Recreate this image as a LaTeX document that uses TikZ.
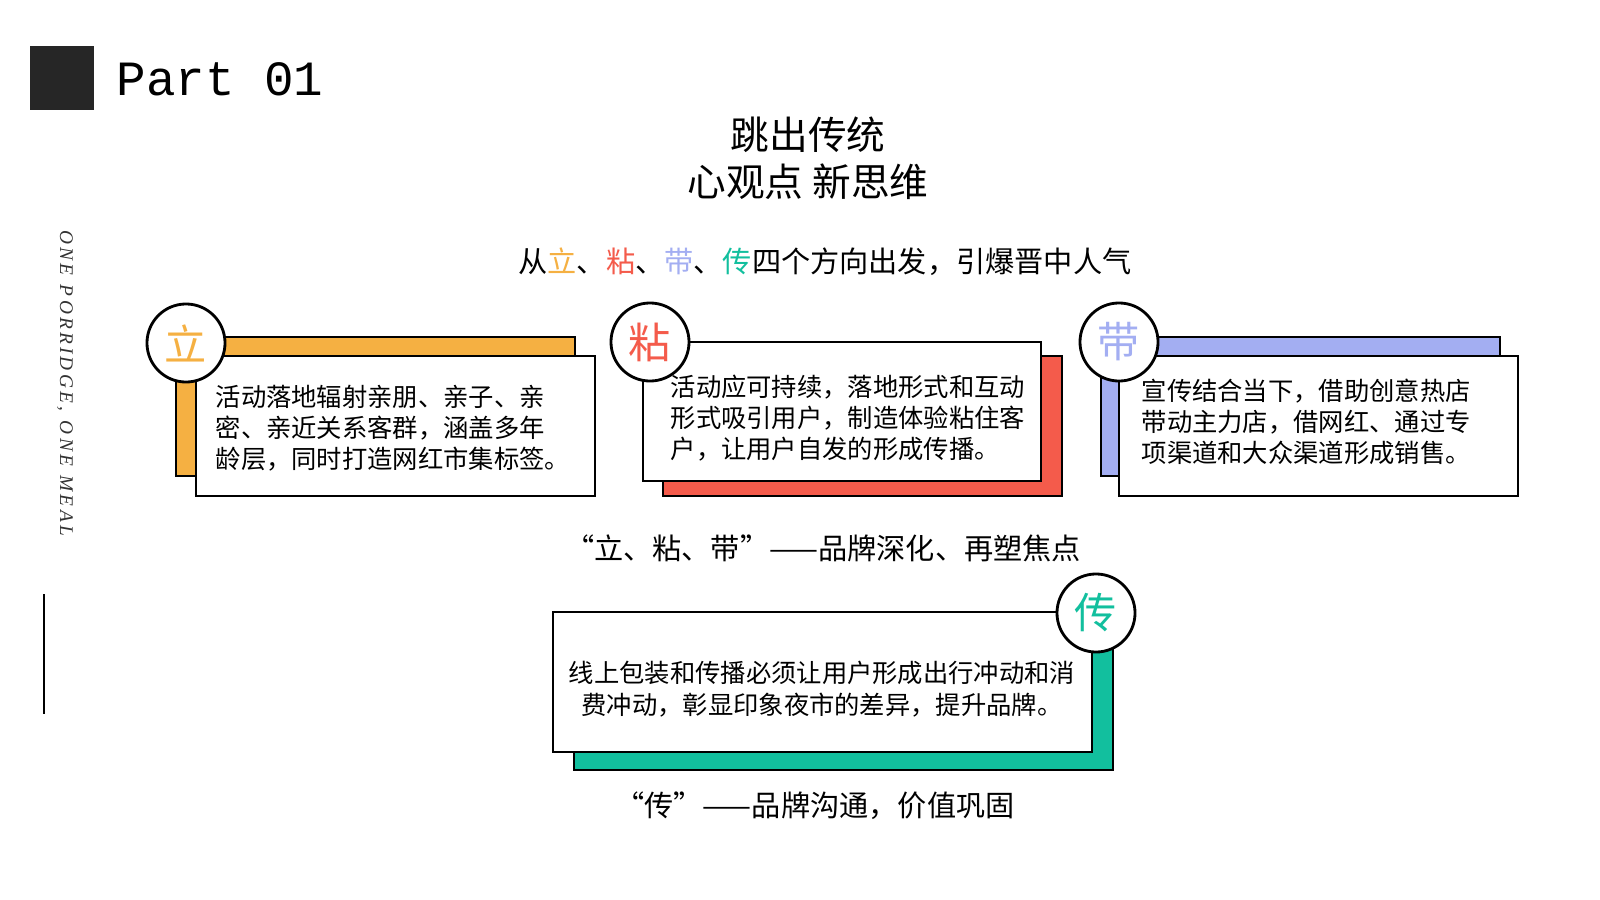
\documentclass[tikz,border=0pt]{standalone}
\usepackage{fontspec}
\setmonofont{Liberation Mono}
\setmainfont{Liberation Serif}
\newfontfamily\cjk{Noto Sans CJK SC}
\definecolor{cor}{HTML}{F5B042}
\definecolor{cre}{HTML}{F45B4B}
\definecolor{cbl}{HTML}{A3AEF2}
\definecolor{cgr}{HTML}{12BF9E}
\begin{document}
\begin{tikzpicture}[x=0.01cm,y=-0.01cm,
 bk/.style={draw=black,line width=0.8pt},
 fr/.style={draw=black,line width=0.8pt,fill=white},
 circ/.style={circle,draw=black,line width=0.8pt,fill=white,minimum size=0.78cm,inner sep=0pt,font=\cjk\fontsize{12}{12}\selectfont},
 body/.style={anchor=north west,align=left,font=\cjk\fontsize{7.2}{8.9}\selectfont,inner sep=0pt},
 captxt/.style={font=\cjk\fontsize{8.3}{9}\selectfont,inner sep=0pt}]
\useasboundingbox (0,0) rectangle (1600,900);
\fill[fill=white] (0,0) rectangle (1600,900);
\fill[black!85] (30,46) rectangle (94,110);
\node[anchor=west,font=\ttfamily\fontsize{14}{14}\selectfont,inner sep=0pt] (part) at (116,79) {Part 01};
\node[font=\cjk\fontsize{11}{13.5}\selectfont,align=center] (title) at (808,158) {跳出传统\\心观点 新思维};
\node[captxt] (sub) at (825,262) {从\textcolor{cor}{立}、\textcolor{cre}{粘}、\textcolor{cbl}{带}、\textcolor{cgr}{传}四个方向出发，引爆晋中人气};
\node[rotate=-90,font=\rmfamily\itshape\fontsize{5.5}{5.5}\selectfont,inner sep=0pt,text=black!80] (vt) at (65,383) {O\,N\,E\ \ P\,O\,R\,R\,I\,D\,G\,E\,,\ \ O\,N\,E\ \ M\,E\,A\,L};
\coordinate (l1) at (44,594); \coordinate (l2) at (44,714);
\draw[line width=0.5pt] (l1) -- (l2);
% box1
\draw[bk,fill=cor] (176,337) rectangle (575,476);
\draw[fr] (196,356) rectangle (595,496);
\node[circ,text=cor] (c1) at (186,343) {立};
\node[body] (t1) at (215,384) {活动落地辐射亲朋、亲子、亲\\密、亲近关系客群，涵盖多年\\龄层，同时打造网红市集标签。};
% box2
\draw[bk,fill=cre] (663,356) rectangle (1062,496);
\draw[fr] (643,342) rectangle (1041,481);
\node[circ,text=cre] (c2) at (650,342) {粘};
\node[body] (t2) at (670,374) {活动应可持续，落地形式和互动\\形式吸引用户，制造体验粘住客\\户，让用户自发的形成传播。};
% box3
\draw[bk,fill=cbl] (1101,337) rectangle (1500,476);
\draw[fr] (1119,356) rectangle (1518,496);
\node[circ,text=cbl] (c3) at (1119,342) {带};
\node[body] (t3) at (1141,378) {宣传结合当下，借助创意热店\\带动主力店，借网红、通过专\\项渠道和大众渠道形成销售。};
\node[captxt] (cap1) at (823,548) {“立、粘、带”——品牌深化、再塑焦点};
% box4
\draw[bk,fill=cgr] (574,632) rectangle (1113,770);
\draw[fr] (553,612) rectangle (1092,752);
\node[circ,text=cgr] (c4) at (1096,613) {传};
\node[body,align=center,anchor=center] (t4) at (822,689) {线上包装和传播必须让用户形成出行冲动和消\\费冲动，彰显印象夜市的差异，提升品牌。};
\node[captxt] (cap2) at (815,806) {“传”——品牌沟通，价值巩固};
\end{tikzpicture}
\end{document}
